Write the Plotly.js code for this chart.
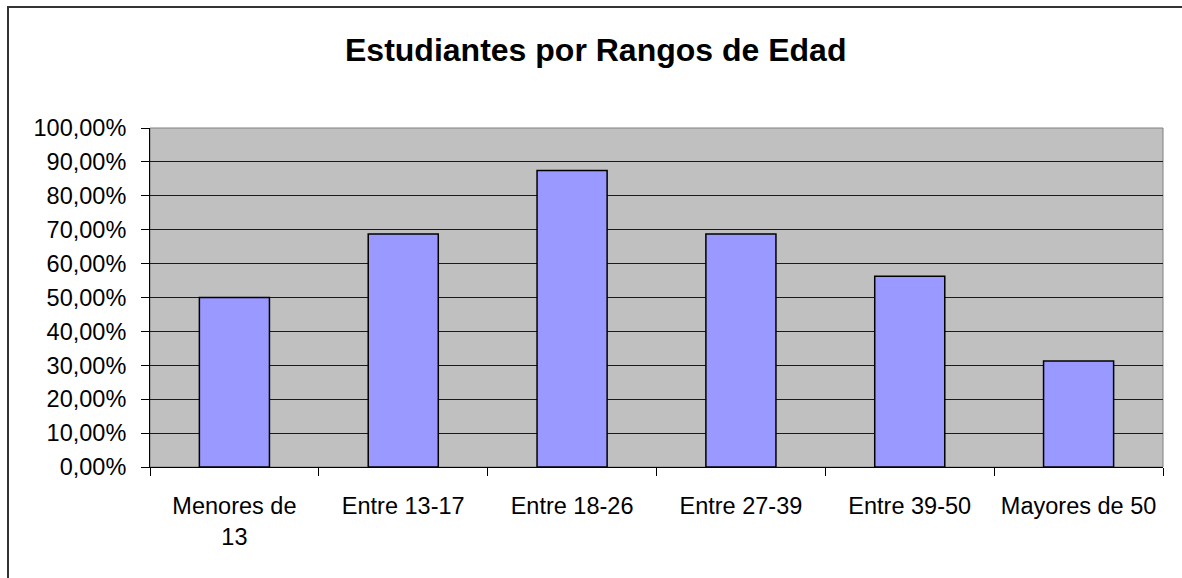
<!DOCTYPE html>
<html>
<head>
<meta charset="utf-8">
<script src="https://cdn.plot.ly/plotly-3.0.1.min.js"></script>
<style>
  html, body { margin: 0; padding: 0; overflow: hidden; background: #fff; }
  #wrap { position: relative; width: 1182px; height: 578px; }
  #chart { position: absolute; left: 0; top: 0; width: 1182px; height: 578px; }
  #frame { position: absolute; left: 7px; top: 6px; width: 1300px; height: 700px;
           border-left: 2px solid #333; border-top: 2px solid #333; pointer-events: none; }
</style>
</head>
<body>
<div id="wrap">
  <div id="chart"></div>
  <div id="frame"></div>
</div>
<script>
const categories = ["Menores de 13", "Entre 13-17", "Entre 18-26", "Entre 27-39", "Entre 39-50", "Mayores de 50"];
const tickLabels = ["Menores de<br>13", "Entre 13-17", "Entre 18-26", "Entre 27-39", "Entre 39-50", "Mayores de 50"];
const values = [0.50, 0.6875, 0.875, 0.6875, 0.5625, 0.3125];
const yTicks = [0, 0.1, 0.2, 0.3, 0.4, 0.5, 0.6, 0.7, 0.8, 0.9, 1.0];

const font = "Liberation Sans, Arial, sans-serif";

const trace = {
  type: "bar",
  x: categories,
  y: values,
  marker: { color: "#9999ff", line: { color: "#000", width: 1.5 } },
  hoverinfo: "x+y"
};

const layout = {
  width: 1182, height: 578,
  margin: { l: 150, r: 19, t: 128, b: 111 },
  paper_bgcolor: "#ffffff",
  plot_bgcolor: "#c0c0c0",
  bargap: 0.585,
  showlegend: false,
  font: { family: font, color: "#000", size: 23 },
  title: {
    text: "<b>Estudiantes por Rangos de Edad</b>",
    font: { family: font, size: 32, color: "#000" },
    x: 0.504, xanchor: "center", xref: "container",
    y: 0.913, yref: "container", yanchor: "middle"
  },
  xaxis: {
    type: "category",
    tickmode: "array",
    tickvals: categories,
    ticktext: tickLabels,
    tickson: "boundaries",
    ticks: "outside", ticklen: 8, tickwidth: 1, tickcolor: "#000",
    showline: true, linecolor: "#000", linewidth: 1,
    showgrid: false,
    tickfont: { family: font, size: 23.5, color: "#000" },
    ticklabelstandoff: 18,
    fixedrange: true
  },
  yaxis: {
    range: [0, 1],
    tickmode: "array",
    tickvals: yTicks,
    tickformat: ".2%",
    ticks: "outside", ticklen: 8, tickwidth: 1, tickcolor: "#000",
    showline: true, linecolor: "#000", linewidth: 1,
    showgrid: true, gridcolor: "#1a1a1a", gridwidth: 1,
    zeroline: false,
    tickfont: { family: font, size: 23.5, color: "#000" },
    ticklabelstandoff: 10,
    fixedrange: true
  },
  separators: ",.",
  shapes: [{
    type: "rect", xref: "paper", yref: "paper",
    x0: 0, x1: 1, y0: 0, y1: 1,
    line: { color: "#808080", width: 1 }, layer: "below"
  }]
};

Plotly.newPlot("chart", [trace], layout, { displayModeBar: false, staticPlot: true });
</script>
</body>
</html>
